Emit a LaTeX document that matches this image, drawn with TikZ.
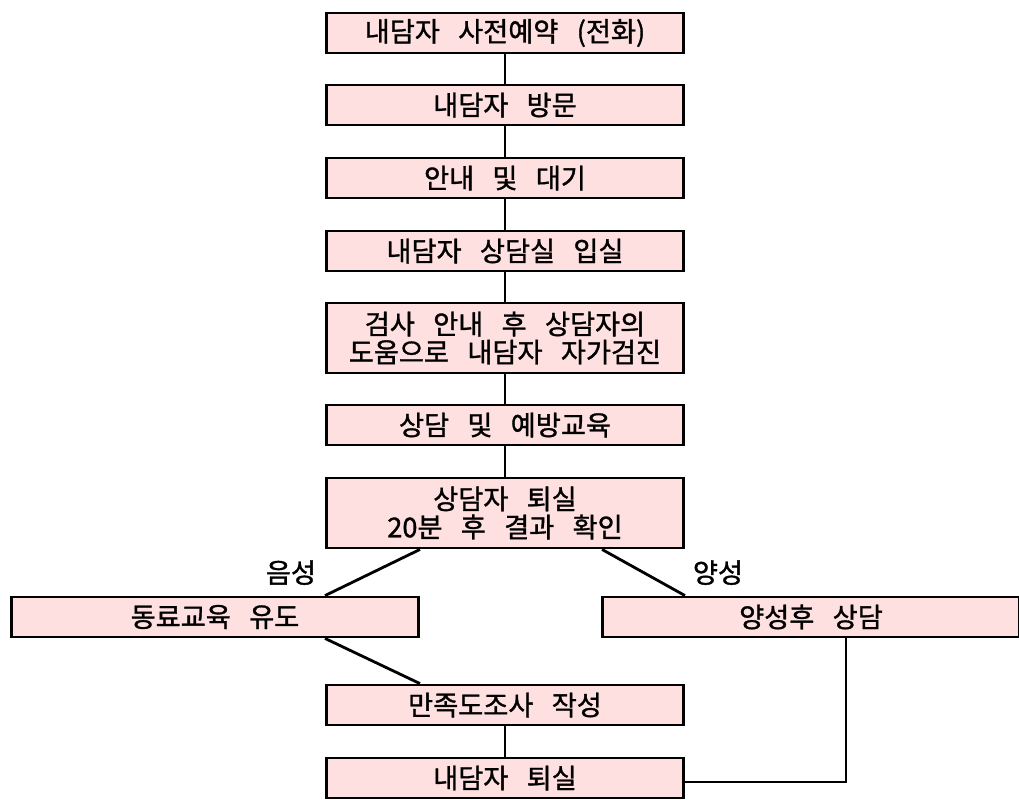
\documentclass[tikz,border=0pt]{standalone}
\usepackage{fontspec}
\setmainfont{Noto Sans CJK KR}[FakeBold=1.2, AutoFakeBold=1.2, WordSpace=3]
\usetikzlibrary{calc}
\definecolor{boxpink}{RGB}{255,224,224}
\tikzstyle{box}=[draw, fill=boxpink, line width=1.6pt, text centered, align=center,
	minimum width=7.14cm, minimum height=0.80cm, inner sep=0pt,
	font=\fontsize{15.5}{16}\selectfont\bfseries]
\tikzstyle{tall} = [box, minimum height=1.40cm]
\tikzstyle{link} = [draw, line width=1.6pt, color=black]
\tikzstyle{tag} = [inner sep=0pt, font=\fontsize{15.5}{16}\selectfont\bfseries]
\newcommand{\flowNode}[3]{node (p#1) [#2]
	{#3}}

\begin{document}
\begin{tikzpicture}
	\useasboundingbox (0,0) rectangle (20.38,-15.98);
	
	\path (10.10,-0.66) \flowNode{1}{box}{내담자 사전예약 (전화)};
	\path (p1)+(0.0,-1.44) \flowNode{2}{box}{내담자 방문};
	\path (p2)+(0.0,-1.46) \flowNode{3}{box}{안내 및 대기};
	\path (p3)+(0.0,-1.46) \flowNode{4}{box}{내담자 상담실 입실};
	\path (p4)+(0.0,-1.74) \flowNode{5}{tall}{검사 안내 후 상담자의\\ 도움으로 내담자 자가검진};
	\path (p5)+(0.0,-1.74) \flowNode{6}{box}{상담 및 예방교육};
	\path (p6)+(0.0,-1.76) \flowNode{7}{tall}{상담자 퇴실\\ 20분 후 결과 확인};
	
	\path (p7)+(-5.80,-2.08) \flowNode{L}{box, minimum width=8.14cm}{동료교육 유도};
	\path (p7)+( 6.12,-2.08) \flowNode{R}{box, minimum width=8.34cm}{양성후 상담};
	
	\path (p7)+(0.0,-3.84) \flowNode{8}{box}{만족도조사 작성};
	\path (p8)+(0.0,-1.46) \flowNode{9}{box}{내담자 퇴실};
	
	% Draw links between elements
	\path [link] (p1) -- (p2);
	\path [link] (p2) -- (p3);
	\path [link] (p3) -- (p4);
	\path [link] (p4) -- (p5);
	\path [link] (p5) -- (p6);
	\path [link] (p6) -- (p7);
	
	\path [link] ($(p7.south)+(-1.70,0)$) -- ($(pL.north)+(2.20,0)$);
	\path [link] ($(p7.south)+(1.94,0)$) -- ($(pR.north)+(-2.52,0)$);
	\path [link] ($(pL.south)+(2.20,0)$) -- ($(p8.north)+(-1.70,0)$);
	\path [link] ($(pR.south)+(0.70,0)$) |- ($(p9.east)+(0,-0.08)$);
	\path [link] (p8) -- (p9);
	
	\path (pL.north)+( 1.52,0.46) node (u1)[tag]{음성};
	\path (pR.north)+(-1.86,0.46) node (u2)[tag]{양성};
	
\end{tikzpicture}
\end{document}
